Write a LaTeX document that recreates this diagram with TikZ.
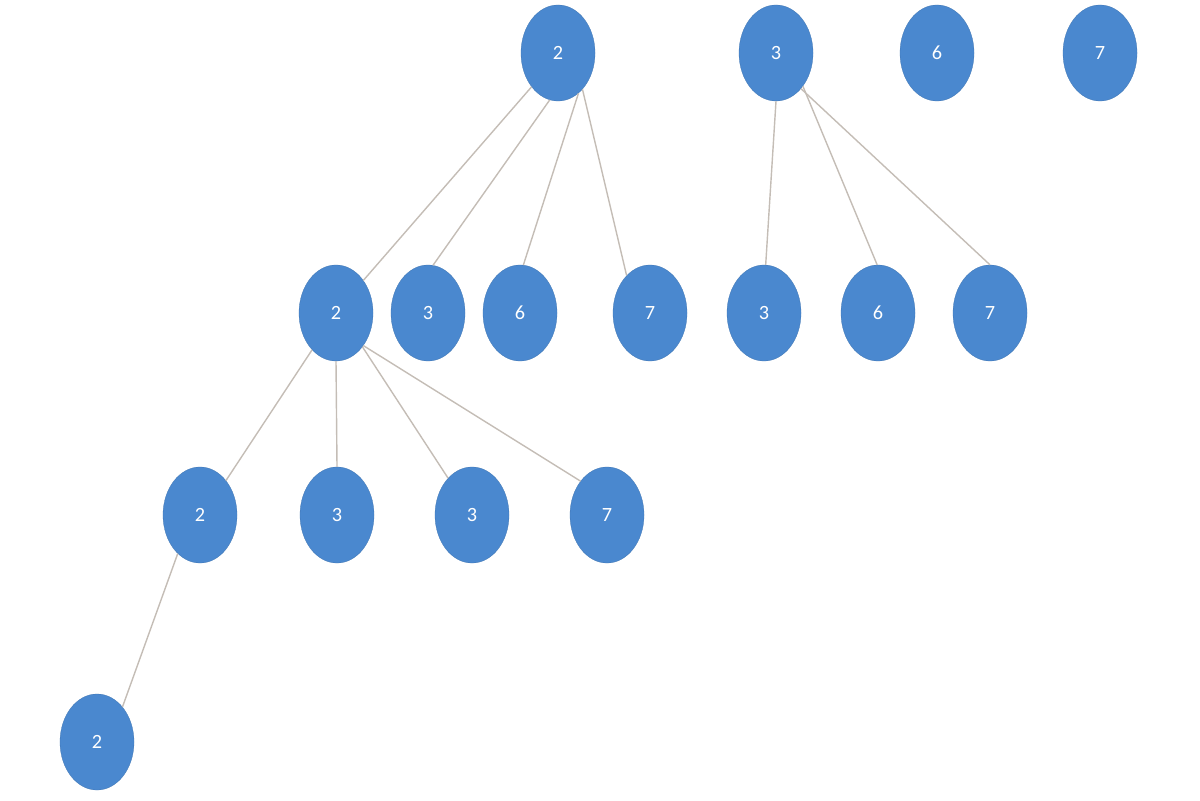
\documentclass[tikz,border=0pt]{standalone}
\usepackage{fontspec}
\setmainfont{Carlito}
\usepackage{xcolor}
\usepackage{tikz}
\usetikzlibrary{shapes.geometric}

\definecolor{nodeblue}{HTML}{4A88CF}
\definecolor{edgegray}{HTML}{C4BDB6}

\begin{document}
\begin{tikzpicture}[x=0.025cm, y=-0.025cm, font=\Large]
	\tikzstyle{vertex} = [ellipse, minimum width=1.85cm, minimum height=2.4cm, fill=nodeblue, draw=nodeblue!85!black, very thin, text=white, inner sep=0pt]
	
	\tikzstyle{edge} = [draw=edgegray, line width=1pt]
	
	% Bounding box of the figure
	\useasboundingbox (0,0) rectangle (1200,800);
	
	% Level 0 nodes
	\node (a2) [vertex] at (558,53) {2};
	\node (a3) [vertex] at (776,53) {3};
	\node (a6) [vertex] at (937,53) {6};
	\node (a7) [vertex] at (1100,53) {7};
	
	% Level 1 nodes
	\node (b2) [vertex] at (336,313) {2};
	\node (b3) [vertex] at (428,313) {3};
	\node (b6) [vertex] at (520,313) {6};
	\node (b7) [vertex] at (650,313) {7};
	\node (c3) [vertex] at (764,313) {3};
	\node (c6) [vertex] at (878,313) {6};
	\node (c7) [vertex] at (990,313) {7};
	
	% Level 2 nodes
	\node (d2) [vertex] at (200,515) {2};
	\node (d3) [vertex] at (337,515) {3};
	\node (e3) [vertex] at (472,515) {3};
	\node (d7) [vertex] at (607,515) {7};
	
	% Level 3 nodes
	\node (f2) [vertex] at (97,742) {2};
	
	% Edges
	\draw [edge] (a2.232) -- (b2.50);
	\draw [edge] (a2.260) -- (b3.84);
	\draw [edge] (a2.297) -- (b6.86);
	\draw [edge] (a2.304) -- (b7.122);
	
	\draw [edge] (a3.270) -- (c3.88);
	\draw [edge] (a3.309) -- (c6.91);
	\draw [edge] (a3.305) -- (c7.90);
	
	\draw [edge] (b2.237) -- (d2.53);
	\draw [edge] (b2.270) -- (d3.90);
	\draw [edge] (b2.308) -- (e3.123);
	\draw [edge] (b2.310) -- (d7.128);
	
	\draw [edge] (d2.240) -- (f2.54);
\end{tikzpicture}
\end{document}
